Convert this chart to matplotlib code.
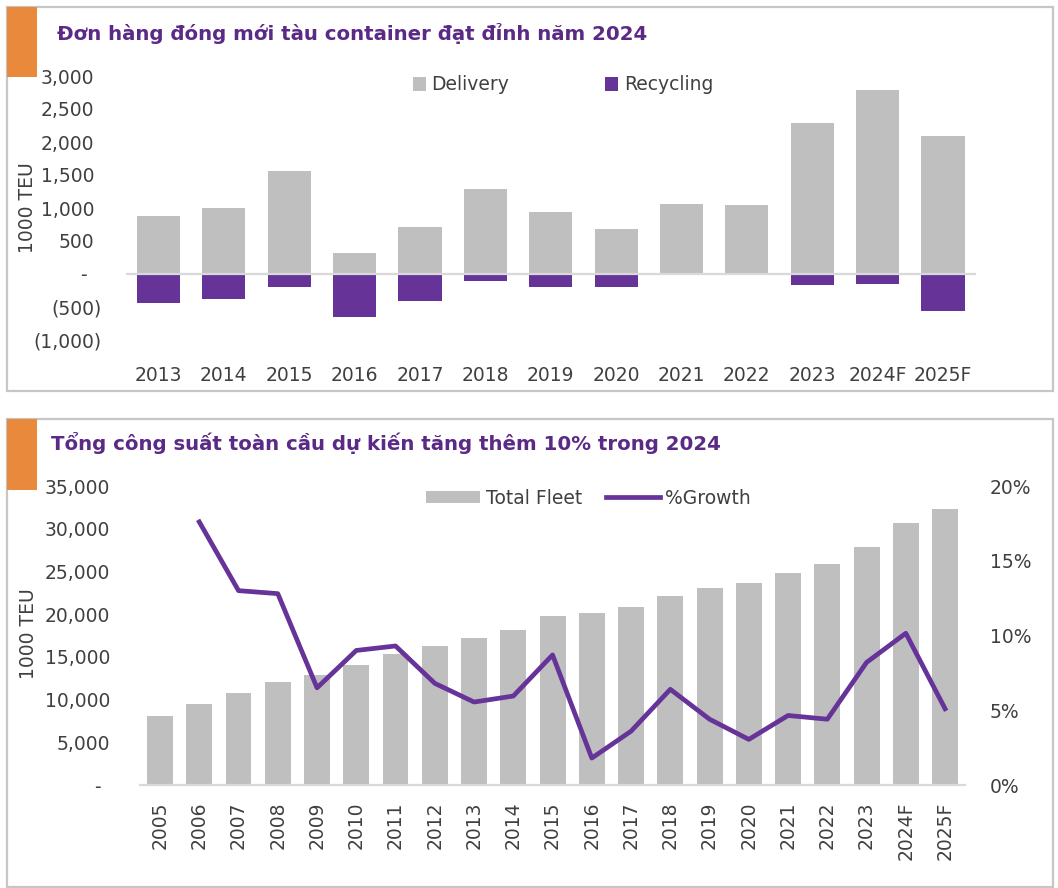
import matplotlib
matplotlib.use('Agg')
import matplotlib.pyplot as plt
from matplotlib.patches import Rectangle
from matplotlib.lines import Line2D
import matplotlib.transforms as mtransforms
import numpy as np

plt.rcParams['font.family'] = ['DejaVu Sans']

# ---------------- data ----------------
title_top = "Đơn hàng đóng mới tàu container đạt đỉnh năm 2024"
title_bottom = "Tổng công suất toàn cầu dự kiến tăng thêm 10% trong 2024"
y_label = "1000 TEU"

top_years = ['2013', '2014', '2015', '2016', '2017', '2018', '2019',
             '2020', '2021', '2022', '2023', '2024F', '2025F']
delivery = [880, 1000, 1555, 320, 710, 1290, 940, 675, 1065, 1045, 2290, 2785, 2090]
recycling = [-440, -380, -190, -650, -405, -100, -195, -195, 0, 0, -170, -155, -555]
top_yticks = [-1000, -500, 0, 500, 1000, 1500, 2000, 2500, 3000]
top_yticklabels = ['(1,000)', '(500)', '-', '500', '1,000', '1,500', '2,000', '2,500', '3,000']
top_legend = ['Delivery', 'Recycling']

fleet_years = ['2005', '2006', '2007', '2008', '2009', '2010', '2011', '2012',
               '2013', '2014', '2015', '2016', '2017', '2018', '2019', '2020',
               '2021', '2022', '2023', '2024F', '2025F']
total_fleet = [8100, 9500, 10800, 12100, 12900, 14000, 15300, 16300, 17200, 18200,
               19800, 20100, 20850, 22100, 23050, 23700, 24800, 25850, 27900, 30700, 32300]
growth_pct = [np.nan, 17.6, 13.0, 12.8, 6.5, 9.0, 9.3, 6.8, 5.55, 5.95,
              8.7, 1.8, 3.6, 6.4, 4.4, 3.05, 4.65, 4.4, 8.2, 10.15, 5.1]
fleet_yticks = [0, 5000, 10000, 15000, 20000, 25000, 30000, 35000]
fleet_yticklabels = ['-', '5,000', '10,000', '15,000', '20,000', '25,000', '30,000', '35,000']
growth_ticks = [0, 5, 10, 15, 20]
growth_ticklabels = ['0%', '5%', '10%', '15%', '20%']
bottom_legend = ['Total Fleet', '%Growth']

# ---------------- style ----------------
GRAY = '#BFBFBF'
PURPLE = '#663399'
TITLE_PURPLE = '#5B2A86'
TEXT = '#404040'
ORANGE = '#E8893B'
BORDER = '#C6C6C6'
AXLINE = '#D9D9D9'
FS = 13.5

W, H = 1058, 888
fig = plt.figure(figsize=(W / 100, H / 100), dpi=100)


def fx(px):
    return px / W


def fy(py):
    return 1 - py / H


def frame(x0, y0, x1, y1):
    fig.patches.append(Rectangle((fx(x0), fy(y1)), fx(x1) - fx(x0), fy(y0) - fy(y1),
                                 transform=fig.transFigure, fill=False,
                                 edgecolor=BORDER, linewidth=1.6, zorder=0))


def orange(x0, y0, x1, y1):
    fig.patches.append(Rectangle((fx(x0), fy(y1)), fx(x1) - fx(x0), fy(y0) - fy(y1),
                                 transform=fig.transFigure, facecolor=ORANGE,
                                 edgecolor='none', zorder=1))


def shift_labels(labels, dx_px):
    for lab in labels:
        lab.set_transform(lab.get_transform() +
                          mtransforms.ScaledTranslation(dx_px / 100, 0, fig.dpi_scale_trans))


# panels
frame(7, 7, 1053, 391)
frame(7, 419, 1053, 887)
orange(7, 7, 37, 77)
orange(7, 419, 37, 490)

fig.text(fx(57), fy(40), title_top, fontsize=14.2, fontweight='bold',
         color=TITLE_PURPLE, va='baseline', ha='left')
fig.text(fx(51), fy(450), title_bottom, fontsize=14.2, fontweight='bold',
         color=TITLE_PURPLE, va='baseline', ha='left')

# ---------------- top chart ----------------
l, r, t, b = 125.7, 975.7, 76, 340
ax1 = fig.add_axes([fx(l), fy(b), fx(r) - fx(l), fy(t) - fy(b)])
x1 = np.arange(len(top_years))
ax1.bar(x1, delivery, width=0.66, color=GRAY, zorder=2)
ax1.bar(x1, recycling, width=0.66, color=PURPLE, zorder=2)
ax1.axhline(0, color=AXLINE, lw=1.6, zorder=3)
ax1.set_xlim(-0.5, len(top_years) - 0.5)
ax1.set_ylim(-1000, 3000)
ax1.set_xticks(x1)
ax1.set_xticklabels(top_years)
ax1.set_yticks(top_yticks)
ax1.set_yticklabels(top_yticklabels)
for s in ax1.spines.values():
    s.set_visible(False)
ax1.tick_params(axis='both', length=0, labelsize=FS, labelcolor=TEXT)
ax1.tick_params(axis='y', pad=17.4)
ax1.tick_params(axis='x', pad=18.5)
ylabs = ax1.get_yticklabels()
for val, lab in zip(top_yticks, ylabs):
    if val > 0:
        shift_labels([lab], -7)
    elif val == 0:
        shift_labels([lab], -15)

fig.text(fx(27.5), fy(207.5), y_label, rotation=90, va='center', ha='center',
         fontsize=FS, color=TEXT)

h_top = [Rectangle((0, 0), 1, 1, facecolor=GRAY), Rectangle((0, 0), 1, 1, facecolor=PURPLE)]
fig.legend(h_top, top_legend, loc='center left', bbox_to_anchor=(fx(412.5), fy(85)),
           ncol=2, frameon=False, borderpad=0, borderaxespad=0,
           handlelength=0.72, handleheight=0.72,
           handletextpad=0.29, columnspacing=5.1, fontsize=FS, labelcolor=TEXT)

# ---------------- bottom chart ----------------
l, r, t, b = 140.4, 964.7, 486, 785
ax2 = fig.add_axes([fx(l), fy(b), fx(r) - fx(l), fy(t) - fy(b)])
x2 = np.arange(len(fleet_years))
ax2.bar(x2, total_fleet, width=0.66, color=GRAY, zorder=2)
ax2.set_xlim(-0.5, len(fleet_years) - 0.5)
ax2.set_ylim(0, 35000)
ax2.set_xticks(x2)
ax2.set_xticklabels(fleet_years, rotation=90)
ax2.set_yticks(fleet_yticks)
ax2.set_yticklabels(fleet_yticklabels)
for s in ax2.spines.values():
    s.set_visible(False)
ax2.spines['bottom'].set_visible(True)
ax2.spines['bottom'].set_color(AXLINE)
ax2.spines['bottom'].set_linewidth(1.6)
ax2.tick_params(axis='both', length=0, labelsize=FS, labelcolor=TEXT)
ax2.tick_params(axis='y', pad=21.7)
ax2.tick_params(axis='x', pad=12)
for val, lab in zip(fleet_yticks, ax2.get_yticklabels()):
    if val == 0:
        shift_labels([lab], -10)

ax2r = ax2.twinx()
ax2r.plot(x2, growth_pct, color=PURPLE, lw=3.4, zorder=4)
ax2r.set_ylim(0, 20)
ax2r.set_yticks(growth_ticks)
ax2r.set_yticklabels(growth_ticklabels)
for s in ax2r.spines.values():
    s.set_visible(False)
ax2r.tick_params(axis='y', length=0, labelsize=FS, labelcolor=TEXT, pad=18)

fig.text(fx(29), fy(634), y_label, rotation=90, va='center', ha='center',
         fontsize=FS, color=TEXT)

h_bot = [Rectangle((0, 0), 1, 1, facecolor=GRAY), Line2D([0, 1], [0, 0], color=PURPLE, lw=3.4)]
fig.legend(h_bot, bottom_legend, loc='center left', bbox_to_anchor=(fx(426), fy(498)),
           ncol=2, frameon=False, borderpad=0, borderaxespad=0,
           handlelength=2.88, handleheight=0.67,
           handletextpad=0.3, columnspacing=1.28, fontsize=FS, labelcolor=TEXT)

fig.savefig('out.png', dpi=100)
